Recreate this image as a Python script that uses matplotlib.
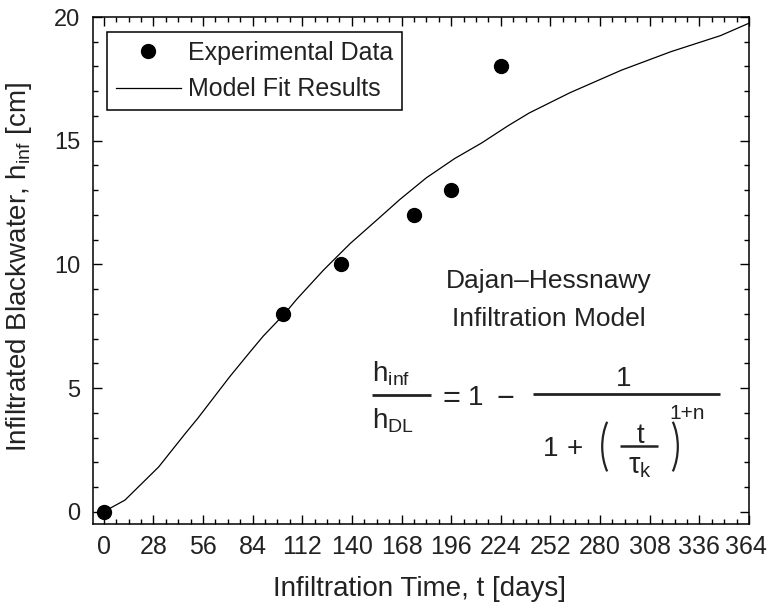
"""Dajan-Hessnawy infiltration model fit vs. experimental data."""

import matplotlib

matplotlib.use("Agg")

import matplotlib.pyplot as plt  # noqa: E402
import matplotlib.transforms as mtransforms  # noqa: E402
from matplotlib.patches import Arc  # noqa: E402
from matplotlib.ticker import MultipleLocator  # noqa: E402

plt.rcParams["font.family"] = ["Liberation Sans", "DejaVu Sans"]
plt.rcParams["mathtext.fontset"] = "custom"
plt.rcParams["mathtext.rm"] = "Liberation Sans"
plt.rcParams["mathtext.it"] = "Liberation Sans"
plt.rcParams["mathtext.bf"] = "Liberation Sans:bold"

# experimental points
exp_days = [0, 101, 134, 175, 196, 224]
exp_h = [0.0, 8.0, 10.0, 12.0, 13.0, 18.0]

# model curve
fit_days = [0, 12, 31, 46, 53, 71, 83, 90, 102, 109, 124, 139, 154, 167,
            182, 198, 213, 228, 240, 263, 292, 320, 348, 364]
fit_h = [0.0, 0.47, 1.81, 3.16, 3.77, 5.45, 6.5, 7.1, 8.0, 8.6, 9.77, 10.84,
         11.79, 12.62, 13.5, 14.28, 14.9, 15.6, 16.12, 16.94, 17.85, 18.6,
         19.25, 19.75]

x_ticks = list(range(0, 365, 28))

TXT = "#222222"

fig = plt.figure(figsize=(7.69, 6.08), dpi=100)
ax = fig.add_axes([0.121, 0.138, 0.853, 0.834])

ax.plot(exp_days, exp_h, "o", color="black", markersize=10,
        label="Experimental Data", zorder=3)
ax.plot(fit_days, fit_h, "-", color="black", linewidth=0.9,
        label="Model Fit Results")

ax.set_xlim(-6, 364)
ax.set_ylim(-0.5, 20)
ax.set_xticks(x_ticks)
ax.xaxis.set_minor_locator(MultipleLocator(7))
ax.yaxis.set_major_locator(MultipleLocator(5))
ax.yaxis.set_minor_locator(MultipleLocator(1))

for spine in ax.spines.values():
    spine.set_linewidth(1.1)
ax.tick_params(which="both", direction="in", top=True, right=True,
               width=1.0, color="black")
ax.tick_params(which="major", length=6.5)
ax.tick_params(which="minor", length=3.5)
ax.tick_params(axis="x", which="major", labelsize=18, pad=8)
ax.tick_params(axis="y", which="major", labelsize=17, pad=9)
ax.tick_params(labelcolor=TXT)

# last x label sits a bit left of its tick, as in the original
fig.canvas.draw()
last = ax.get_xticklabels()[-1]
last.set_transform(last.get_transform() + mtransforms.ScaledTranslation(
    -3 / 100, 0, fig.dpi_scale_trans))

ax.set_xlabel("Infiltration Time, t [days]", fontsize=20, color=TXT)
ax.set_ylabel(r"Infiltrated Blackwater, h$_{\mathrm{inf}}$ [cm]",
              fontsize=20, color=TXT)
ax.xaxis.set_label_coords(0.498, -0.103)
ax.yaxis.set_label_coords(-0.09, 0.507)

leg = ax.legend(loc="upper left", bbox_to_anchor=(0.021, 0.970),
                borderaxespad=0, fontsize=18, numpoints=1, fancybox=False,
                edgecolor="black", framealpha=1, handlelength=2.6,
                handletextpad=0.3, borderpad=0.35, labelspacing=0.5)
leg.get_frame().set_linewidth(1.1)
for t in leg.get_texts():
    t.set_color(TXT)


def at(px, py):
    # reference pixel position -> axes fraction
    return (px - 93) / 656, (524 - py) / 507


def put(px, py, s, size, ha="left", va="baseline", **kw):
    x, y = at(px, py)
    ax.text(x, y, s, transform=ax.transAxes, ha=ha, va=va, fontsize=size,
            color=TXT, **kw)


def bar(px0, px1, py, lw=2.0):
    x0, y = at(px0, py)
    x1, _ = at(px1, py)
    ax.plot([x0, x1], [y, y], transform=ax.transAxes, color=TXT,
            linewidth=lw, solid_capstyle="butt", clip_on=False)


put(549, 281, "Dajan\u2013Hessnawy", 19, ha="center", va="center")
put(549, 319, "Infiltration Model", 19, ha="center", va="center")

# left-hand fraction h_inf / h_DL
put(372, 381, r"h$_{\mathrm{inf}}$", 20)
put(372, 428, r"h$_{\mathrm{DL}}$", 20)
bar(372, 431, 395)

# = 1 -
put(451, 395, "=", 22, ha="center", va="center_baseline")
put(476, 395, "1", 20, ha="center", va="center_baseline")
put(505, 395, "\u2212", 22, ha="center", va="center_baseline")

# big fraction
bar(533, 720, 394)
put(624, 386, "1", 20, ha="center")
put(551, 456, "1", 20, ha="center")
put(575, 456, "+", 20, ha="center")
put(640, 443, "t", 20, ha="center")
bar(620, 658, 446, lw=1.8)
put(628, 473, r"$\mathrm{\tau}_{\mathrm{k}}$", 21)
put(669, 419, "1+n", 15)

# parentheses
for cx, t1, t2 in ((628, 123, 237), (652, -57, 57)):
    x, y = at(cx, 446.5)
    ax.add_patch(Arc((x, y), 51.6 / 656, 84 / 507, theta1=t1, theta2=t2,
                     transform=ax.transAxes, color=TXT, linewidth=1.6))

fig.savefig("out.png", dpi=100)
